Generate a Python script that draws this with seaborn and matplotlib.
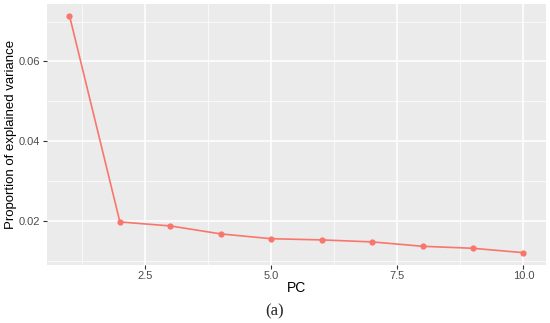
import matplotlib
matplotlib.use("Agg")
import matplotlib.pyplot as plt
import seaborn as sns
import pandas as pd
from matplotlib.ticker import FixedLocator

pcs = [1, 2, 3, 4, 5, 6, 7, 8, 9, 10]
variance = [0.0715, 0.0198, 0.0188, 0.0168, 0.0156, 0.0153, 0.0148, 0.0137, 0.0132, 0.0121]
xticks = [2.5, 5.0, 7.5, 10.0]
yticks = [0.02, 0.04, 0.06]

df = pd.DataFrame({"PC": pcs, "var": variance})

sns.set_theme(style="darkgrid")
plt.rcParams['font.family'] = ['Liberation Sans', 'DejaVu Sans']

fig = plt.figure(figsize=(5.5, 3.23), dpi=100)
ax = fig.add_axes([0.085, 0.181, 0.908, 0.808])
ax.set_facecolor("#EBEBEB")

sns.lineplot(data=df, x="PC", y="var", ax=ax, color="#F8766D", linewidth=1.2,
             marker="o", markersize=4.5, markeredgewidth=0, zorder=3)

ax.set_xlim(0.55, 10.45)
ax.set_ylim(0.00913, 0.0745)
ax.xaxis.set_major_locator(FixedLocator(xticks))
ax.yaxis.set_major_locator(FixedLocator(yticks))
ax.set_xticklabels([f"{t:.1f}" for t in xticks])
ax.set_yticklabels([f"{t:.2f}" for t in yticks])
ax.xaxis.set_minor_locator(FixedLocator([1.25, 3.75, 6.25, 8.75]))
ax.yaxis.set_minor_locator(FixedLocator([0.01, 0.03, 0.05, 0.07]))
ax.grid(which="major", color="white", linewidth=1.1)
ax.grid(which="minor", color="white", linewidth=0.5)
ax.tick_params(which="major", length=3, width=0.8, color="#333333",
               labelsize=8, labelcolor="#4D4D4D", pad=2, left=True, bottom=True)
ax.tick_params(which="minor", length=0)
for s in ax.spines.values():
    s.set_visible(False)

ax.set_xlabel("PC", fontsize=10, color="black", labelpad=0)
ax.set_ylabel("Proportion of explained variance", fontsize=9.5, color="black", labelpad=1)

fig.text(0.5, 0.036, "(a)", ha="center", va="center", fontsize=12,
         family=["Liberation Serif", "DejaVu Serif"])

fig.savefig("out.png", dpi=100, facecolor="white")
